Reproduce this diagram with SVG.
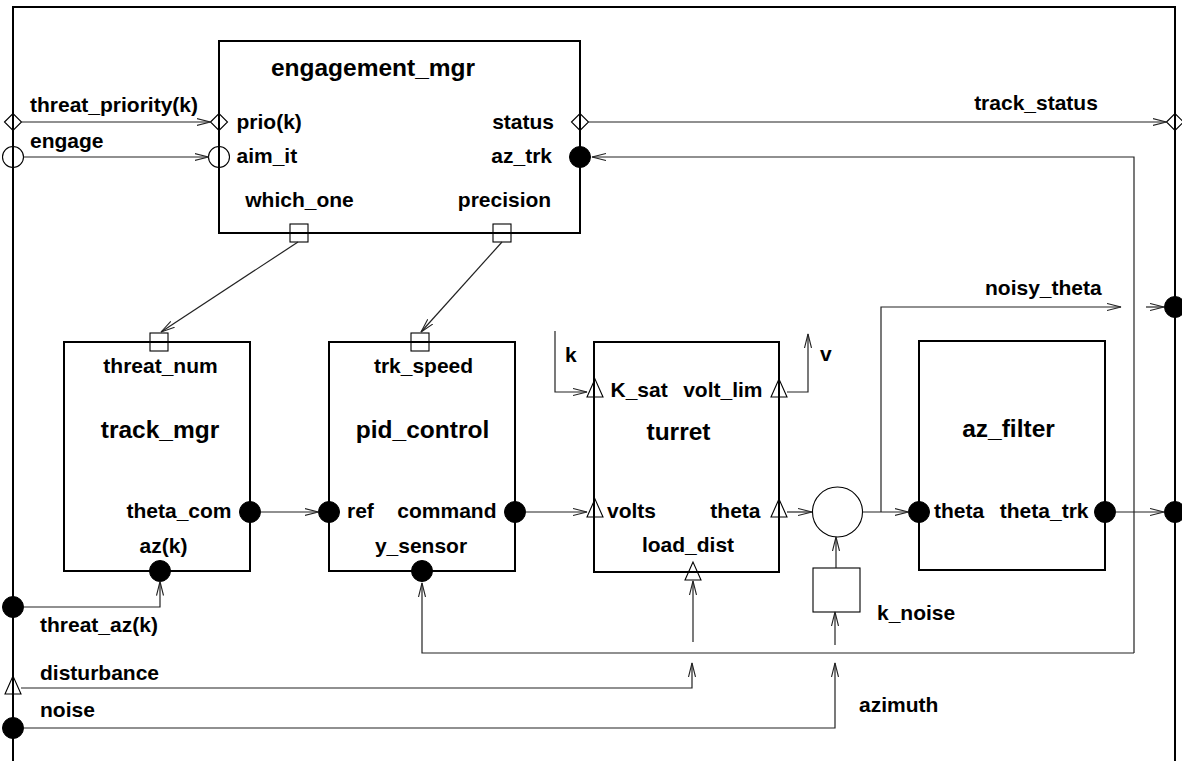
<svg xmlns="http://www.w3.org/2000/svg" xmlns:xlink="http://www.w3.org/1999/xlink" width="1182" height="761" viewBox="0 0 1182 761">
<defs>
<style>
.box{fill:none;stroke:#000;stroke-width:2}
.frame{fill:none;stroke:#000;stroke-width:2}
.c{fill:none;stroke:#222;stroke-width:1.2}
.pt{fill:none;stroke:#000;stroke-width:1.1}
.pf{fill:#000;stroke:#000;stroke-width:1}
.t{font-family:"Liberation Sans",Arial,Helvetica,sans-serif;font-weight:bold;font-size:21px;fill:#000}
.ti{font-family:"Liberation Sans",Arial,Helvetica,sans-serif;font-weight:bold;font-size:24.5px;fill:#000;text-anchor:middle}
.m{text-anchor:middle}
.e{text-anchor:end}
</style>
<marker id="arr" markerWidth="16" markerHeight="10" refX="14" refY="4" orient="auto" markerUnits="userSpaceOnUse">
<path d="M0,0.5 L14,4 L0,7.5" fill="none" stroke="#222" stroke-width="1.1"/>
</marker>
<path id="dia" d="M-8.5,0 L0,-8.5 L8.5,0 L0,8.5 Z"/>
<circle id="oc" r="10.5"/>
<circle id="fc" r="10.5"/>
<path id="tri" d="M0,-13 L-8,5 L8,5 Z"/>
<rect id="sq" x="-9" y="-9" width="18" height="18"/>
</defs>
<rect width="1182" height="761" fill="#fff"/>

<g id="frame">
<path class="frame" d="M13,761 V7 H1175 V761"/>
<use href="#dia" class="pt" x="13" y="122"/>
<use href="#oc" class="pt" x="13" y="157"/>
<use href="#fc" class="pf" x="13" y="607"/>
<use href="#tri" class="pt" x="13" y="689"/>
<use href="#fc" class="pf" x="13" y="728"/>
<use href="#dia" class="pt" x="1175" y="122"/>
<use href="#fc" class="pf" x="1175" y="307"/>
<use href="#fc" class="pf" x="1175" y="512"/>
<text class="t" x="30" y="112">threat_priority(k)</text>
<text class="t" x="30" y="148">engage</text>
<text class="t" x="40" y="632">threat_az(k)</text>
<text class="t" x="40" y="680">disturbance</text>
<text class="t" x="40" y="717">noise</text>
<text class="t m" x="1036" y="110">track_status</text>
<text class="t" x="985" y="295">noisy_theta</text>
<text class="t" x="565" y="362">k</text>
<text class="t" x="820" y="361">v</text>
<text class="t" x="877" y="620">k_noise</text>
<text class="t" x="859" y="712">azimuth</text>
</g>

<g id="engagement_mgr">
<rect class="box" x="219" y="41" width="361" height="192"/>
<text class="ti" x="373" y="76">engagement_mgr</text>
<use href="#dia" class="pt" x="219" y="122"/>
<use href="#oc" class="pt" x="219" y="157"/>
<use href="#dia" class="pt" x="580" y="122"/>
<use href="#fc" class="pf" x="580" y="157"/>
<use href="#sq" class="pt" x="299" y="233"/>
<use href="#sq" class="pt" x="502" y="233"/>
<text class="t" x="236.5" y="129">prio(k)</text>
<text class="t" x="236.5" y="163">aim_it</text>
<text class="t e" x="554" y="129">status</text>
<text class="t e" x="552" y="163">az_trk</text>
<text class="t m" x="299.5" y="207">which_one</text>
<text class="t m" x="504.5" y="207">precision</text>
</g>

<g id="track_mgr">
<rect class="box" x="64" y="342" width="186" height="229"/>
<text class="ti" x="160" y="438">track_mgr</text>
<use href="#sq" class="pt" x="159" y="342"/>
<use href="#fc" class="pf" x="250" y="512"/>
<use href="#fc" class="pf" x="160" y="571"/>
<text class="t m" x="160.5" y="373">threat_num</text>
<text class="t e" x="231.5" y="518">theta_com</text>
<text class="t m" x="163.5" y="553">az(k)</text>
</g>

<g id="pid_control">
<rect class="box" x="329" y="342" width="186" height="229"/>
<text class="ti" x="422.5" y="438">pid_control</text>
<use href="#sq" class="pt" x="420" y="342"/>
<use href="#fc" class="pf" x="329" y="512"/>
<use href="#fc" class="pf" x="515" y="512"/>
<use href="#fc" class="pf" x="422" y="571"/>
<text class="t m" x="423.5" y="373">trk_speed</text>
<text class="t" x="347" y="518">ref</text>
<text class="t e" x="496.5" y="518">command</text>
<text class="t m" x="421" y="553">y_sensor</text>
</g>

<g id="turret">
<rect class="box" x="594" y="342" width="185" height="230"/>
<text class="ti" x="678.5" y="440">turret</text>
<use href="#tri" class="pt" x="595" y="392"/>
<use href="#tri" class="pt" x="779" y="392"/>
<use href="#tri" class="pt" x="595" y="512"/>
<use href="#tri" class="pt" x="779" y="512"/>
<use href="#tri" class="pt" x="693" y="575"/>
<text class="t" x="610.5" y="397">K_sat</text>
<text class="t e" x="762.5" y="397">volt_lim</text>
<text class="t" x="607" y="518">volts</text>
<text class="t e" x="760.5" y="518">theta</text>
<text class="t m" x="688" y="552">load_dist</text>
</g>

<g id="sum">
<circle class="pt" cx="837.5" cy="512" r="25"/>
</g>

<g id="k_noise">
<rect class="pt" x="813" y="568" width="47" height="44"/>
</g>

<g id="az_filter">
<rect class="box" x="919" y="341" width="186" height="229"/>
<text class="ti" x="1008.5" y="437">az_filter</text>
<use href="#fc" class="pf" x="919" y="512"/>
<use href="#fc" class="pf" x="1105" y="512"/>
<text class="t" x="934" y="518">theta</text>
<text class="t e" x="1088.5" y="518">theta_trk</text>
</g>

<g id="connectors">
<path class="c" marker-end="url(#arr)" d="M21.5,122 H210.5"/>
<path class="c" marker-end="url(#arr)" d="M23.5,157 H208.5"/>
<path class="c" marker-end="url(#arr)" d="M588.5,122 H1166.5"/>
<path class="c" marker-end="url(#arr)" d="M1134,653 V157 H592"/>
<path class="c" marker-end="url(#arr)" d="M1134,653 H422 V583"/>
<path class="c" marker-end="url(#arr)" d="M298,242 L161,332"/>
<path class="c" marker-end="url(#arr)" d="M502,242 L421,332"/>
<path class="c" marker-end="url(#arr)" d="M260.5,512 H318.5"/>
<path class="c" marker-end="url(#arr)" d="M525.5,512 H587"/>
<path class="c" marker-end="url(#arr)" d="M555,331 V392 H587"/>
<path class="c" marker-end="url(#arr)" d="M787,392 H808 V334"/>
<path class="c" marker-end="url(#arr)" d="M787,512 H812"/>
<path class="c" marker-end="url(#arr)" d="M862.5,512 H908.5"/>
<path class="c" marker-end="url(#arr)" d="M881,512 V307 H1121"/>
<path class="c" marker-end="url(#arr)" d="M1146,307 H1164"/>
<path class="c" marker-end="url(#arr)" d="M1115.5,512 H1164"/>
<path class="c" marker-end="url(#arr)" d="M23.5,607 H160 V581.5"/>
<path class="c" marker-end="url(#arr)" d="M21,688 H692 V663"/>
<path class="c" marker-end="url(#arr)" d="M693,642 V581"/>
<path class="c" marker-end="url(#arr)" d="M23.5,728 H835 V663"/>
<path class="c" marker-end="url(#arr)" d="M835,645 V612"/>
<path class="c" marker-end="url(#arr)" d="M836,568 V537"/>
</g>
</svg>
